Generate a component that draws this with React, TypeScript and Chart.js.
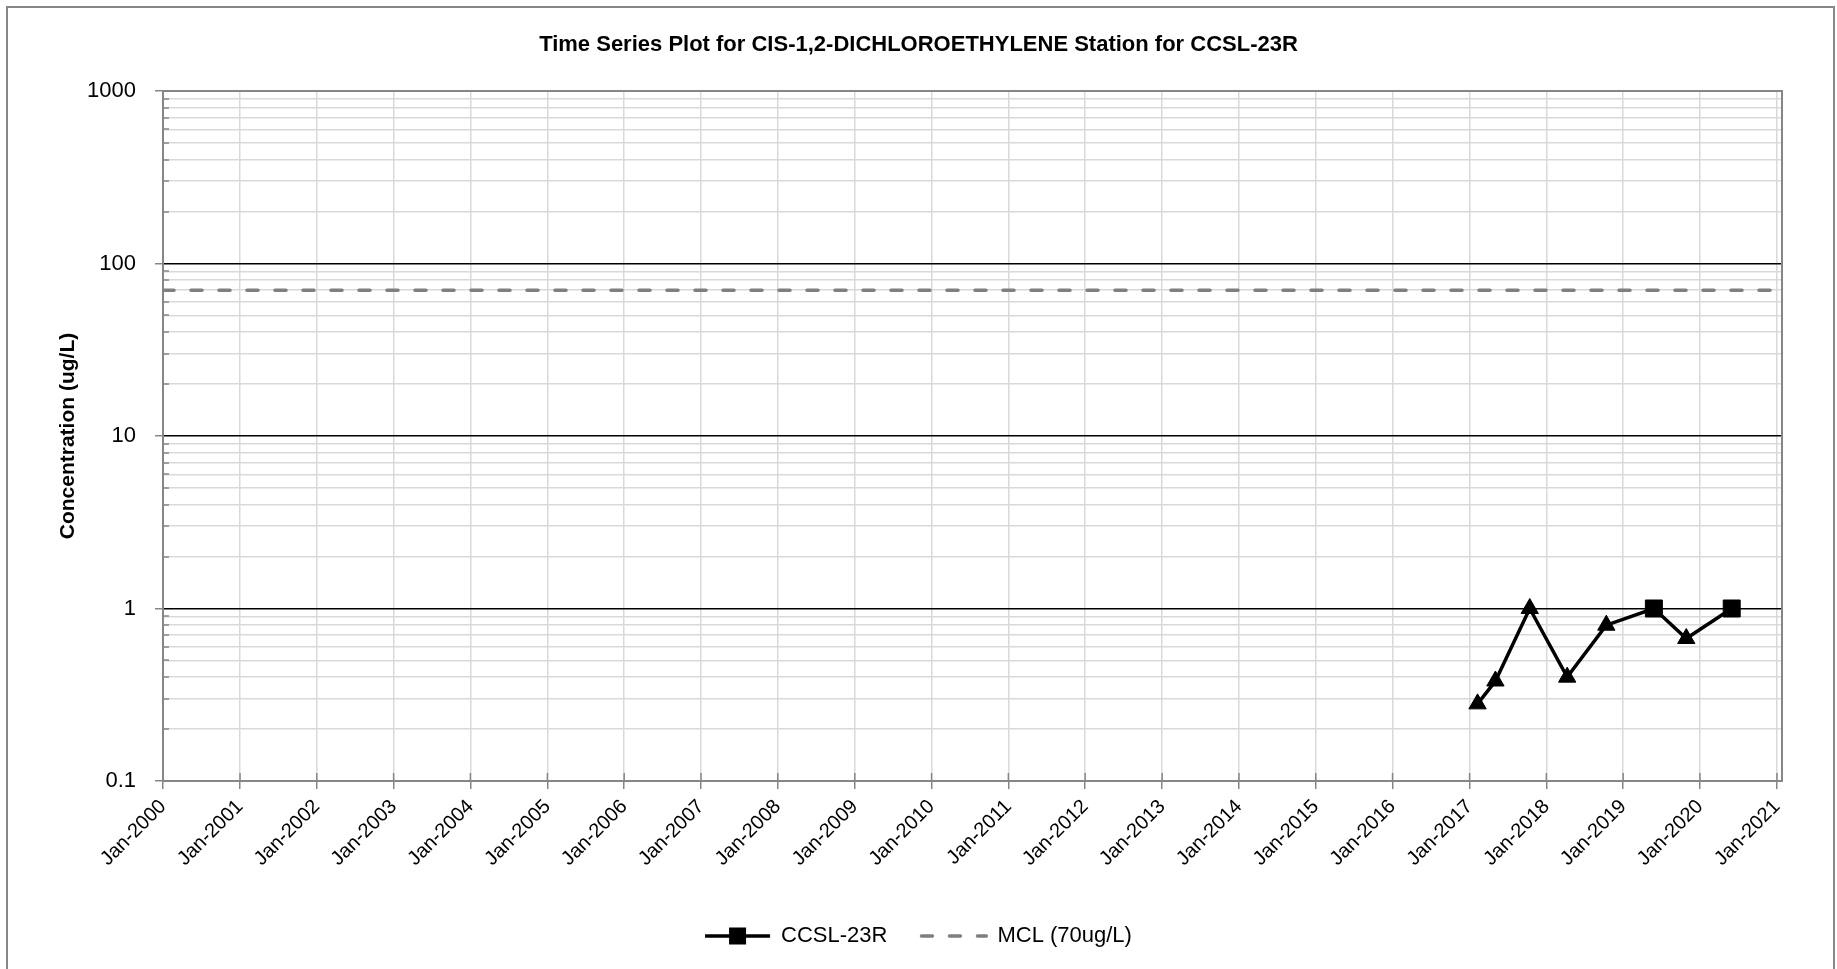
import React, { useEffect, useRef } from 'react';
import { Chart, registerables } from 'chart.js';

Chart.register(...registerables);

const FONT = "'Liberation Sans', Arial, sans-serif";

const chartTitle = 'Time Series Plot for CIS-1,2-DICHLOROETHYLENE Station for CCSL-23R';
const yAxisTitle = 'Concentration (ug/L)';
const seriesName = 'CCSL-23R';
const mclName = 'MCL (70ug/L)';

// Sample dates and concentrations (ug/L)
const sampleDates = ['2017-02-08', '2017-05-04', '2017-10-14', '2018-04-10', '2018-10-13', '2019-05-27', '2019-10-28', '2020-05-31'];
const sampleValues = [0.28, 0.38, 1.0, 0.4, 0.8, 1.0, 0.67, 1.0];
const nonDetect = [true, true, true, true, true, false, true, false];

const mclValue = 70;

const xStart = '2000-01-01';
const xEnd = '2021-01-25';
const xTickDates = ['2000-01-01', '2001-01-01', '2002-01-01', '2003-01-01', '2004-01-01', '2005-01-01', '2006-01-01', '2007-01-01', '2008-01-01', '2009-01-01', '2010-01-01', '2011-01-01', '2012-01-01', '2013-01-01', '2014-01-01', '2015-01-01', '2016-01-01', '2017-01-01', '2018-01-01', '2019-01-01', '2020-01-01', '2021-01-01'];
const xTickLabels = ['Jan-2000', 'Jan-2001', 'Jan-2002', 'Jan-2003', 'Jan-2004', 'Jan-2005', 'Jan-2006', 'Jan-2007', 'Jan-2008', 'Jan-2009', 'Jan-2010', 'Jan-2011', 'Jan-2012', 'Jan-2013', 'Jan-2014', 'Jan-2015', 'Jan-2016', 'Jan-2017', 'Jan-2018', 'Jan-2019', 'Jan-2020', 'Jan-2021'];

const yMajorTicks = [0.1, 1, 10, 100, 1000];
const yMajorLabels = ['0.1', '1', '10', '100', '1000'];
const yMinorSteps = [2, 3, 4, 5, 6, 7, 8, 9];

const toTime = (d: string) => Date.parse(d + 'T00:00:00Z');

export default function App() {
  const ref = useRef<HTMLCanvasElement>(null);

  useEffect(() => {
    const canvas = ref.current;
    if (!canvas) return;
    const W = 1837;
    const H = 969;
    const area = { left: 163, top: 91, right: 1782, bottom: 781 };
    const sidePad = W - area.right;
    const padBottom = 13;
    const legendMaxH = 65;
    const legendFont = 22;

    const yTickValues: number[] = [];
    yMajorTicks.forEach((m, i) => {
      yTickValues.push(m);
      if (i < yMajorTicks.length - 1) yMinorSteps.forEach((s) => yTickValues.push(m * s));
    });
    const majorIndex = (v: number) => yMajorTicks.findIndex((m) => Math.abs(v - m) < m * 1e-6);
    const isMajor = (v: number) => majorIndex(v) >= 0;

    const framePlugin = {
      id: 'frame',
      beforeDraw(chart: any) {
        const ctx = chart.ctx;
        ctx.save();
        ctx.fillStyle = '#ffffff';
        ctx.fillRect(0, 0, W, H);
        ctx.strokeStyle = '#878787';
        ctx.lineWidth = 2;
        ctx.beginPath();
        ctx.moveTo(7, H + 10);
        ctx.lineTo(7, 7);
        ctx.lineTo(1834, 7);
        ctx.lineTo(1834, H + 10);
        ctx.stroke();
        ctx.restore();
      },
      beforeDatasetsDraw(chart: any) {
        const { ctx, chartArea: a, scales } = chart;
        const xs = scales.x;
        const ys = scales.y;
        ctx.save();
        ctx.strokeStyle = '#868686';
        ctx.lineWidth = 1.5;
        ctx.beginPath();
        yTickValues.forEach((v) => {
          if (!isMajor(v)) {
            const py = Math.round(ys.getPixelForValue(v));
            ctx.moveTo(a.left, py);
            ctx.lineTo(a.left + 6, py);
          }
        });
        xs.ticks.forEach((t: any) => {
          const px = xs.getPixelForValue(t.value);
          ctx.moveTo(px, a.bottom);
          ctx.lineTo(px, a.bottom - 8);
        });
        ctx.stroke();
        ctx.lineWidth = 2;
        ctx.strokeRect(a.left, a.top, a.right - a.left, a.bottom - a.top);
        ctx.restore();
      },
      afterDraw(chart: any) {
        const lg = chart.legend;
        if (!lg || !lg.legendHitBoxes || !lg.legendHitBoxes.length) return;
        const hb = lg.legendHitBoxes[0];
        const ctx = chart.ctx;
        const cx = hb.left + 65 / 2;
        const cy = hb.top + legendFont / 2;
        ctx.save();
        ctx.fillStyle = '#000';
        ctx.fillRect(cx - 8.5, cy - 8.5, 17, 17);
        ctx.restore();
      },
    };

    const xMin = toTime(xStart);
    const xMax = toTime(xEnd);

    const chart = new Chart(canvas, {
      type: 'line',
      data: {
        datasets: [
          {
            label: seriesName,
            data: sampleDates.map((d, i) => ({ x: toTime(d), y: sampleValues[i] })),
            borderColor: '#000',
            backgroundColor: '#000',
            borderWidth: 3.5,
            pointStyle: nonDetect.map((n) => (n ? 'triangle' : 'rect')) as any,
            pointRadius: nonDetect.map((n) => (n ? 10 : 12)),
            pointBackgroundColor: '#000',
            pointBorderColor: '#000',
            pointBorderWidth: 1,
            tension: 0,
          },
          {
            label: mclName,
            data: [
              { x: xMin, y: mclValue },
              { x: xMax, y: mclValue },
            ],
            borderColor: '#7f7f7f',
            borderWidth: 3.5,
            borderDash: [11, 17],
            borderCapStyle: 'round',
            pointRadius: 0,
          },
        ],
      },
      options: {
        animation: false,
        responsive: false,
        devicePixelRatio: 1,
        layout: { padding: { left: sidePad, right: sidePad, top: 0, bottom: padBottom } },
        scales: {
          x: {
            type: 'linear',
            min: xMin,
            max: xMax,
            afterBuildTicks: (s: any) => {
              s.ticks = xTickDates.map((d) => ({ value: toTime(d) }));
            },
            afterFit: (s: any) => {
              const lh = s.chart.legend ? s.chart.legend.height : 0;
              s.height = H - padBottom - lh - area.bottom;
            },
            ticks: {
              autoSkip: false,
              minRotation: 45,
              maxRotation: 45,
              padding: 6,
              color: '#000',
              font: { family: FONT, size: 20 },
              callback: (_v: any, i: number) => xTickLabels[i],
            },
            grid: {
              color: '#d9d9d9',
              lineWidth: 1.5,
              tickLength: 8,
              tickColor: '#868686',
            },
            border: { color: '#868686', width: 2 },
          },
          y: {
            type: 'logarithmic',
            min: 0.1,
            max: 1000,
            afterBuildTicks: (s: any) => {
              s.ticks = yTickValues.map((v) => ({ value: v, major: isMajor(v) }));
            },
            afterFit: (s: any) => {
              s.width = area.left - sidePad;
            },
            ticks: {
              autoSkip: false,
              padding: 19,
              color: '#000',
              font: { family: FONT, size: 22 },
              callback: (v: any) => {
                const i = majorIndex(Number(v));
                return i >= 0 ? yMajorLabels[i] : '';
              },
            },
            grid: {
              color: (c: any) => {
                const v = c.tick ? c.tick.value : 0;
                if (!isMajor(v)) return '#d9d9d9';
                if (v === 0.1 || v === 1000) return '#868686';
                return '#000';
              },
              lineWidth: 1.5,
              tickLength: 8,
              tickColor: (c: any) => (c.tick && isMajor(c.tick.value) ? '#868686' : 'rgba(0,0,0,0)'),
            },
            border: { color: '#868686', width: 2 },
            title: {
              display: true,
              text: yAxisTitle,
              color: '#000',
              font: { family: FONT, size: 21, weight: 'bold' },
              padding: { top: 1, bottom: 0 },
            },
          },
        },
        plugins: {
          title: {
            display: true,
            text: chartTitle,
            color: '#000',
            font: { family: FONT, size: 22, weight: 'bold' },
            padding: { top: 32, bottom: 32.6 },
          },
          legend: {
            position: 'bottom',
            maxHeight: legendMaxH,
            labels: {
              usePointStyle: true,
              pointStyleWidth: 65,
              padding: 34,
              color: '#000',
              font: { family: FONT, size: legendFont },
              generateLabels: () => [
                {
                  text: seriesName,
                  fillStyle: '#000',
                  strokeStyle: '#000',
                  lineWidth: 3.5,
                  pointStyle: 'line',
                  datasetIndex: 0,
                  hidden: false,
                },
                {
                  text: mclName,
                  fillStyle: '#7f7f7f',
                  strokeStyle: '#7f7f7f',
                  lineWidth: 3.5,
                  lineDash: [11, 17],
                  lineCap: 'round',
                  pointStyle: 'line',
                  datasetIndex: 1,
                  hidden: false,
                },
              ],
            },
          },
          tooltip: { enabled: false },
        },
      } as any,
      plugins: [framePlugin],
    });

    return () => chart.destroy();
  }, []);

  return (
    <div style={{ position: 'absolute', left: 0, top: 0, width: 1837, height: 969, background: '#fff' }}>
      <canvas ref={ref} width={1837} height={969} style={{ display: 'block', width: 1837, height: 969 }} />
    </div>
  );
}
